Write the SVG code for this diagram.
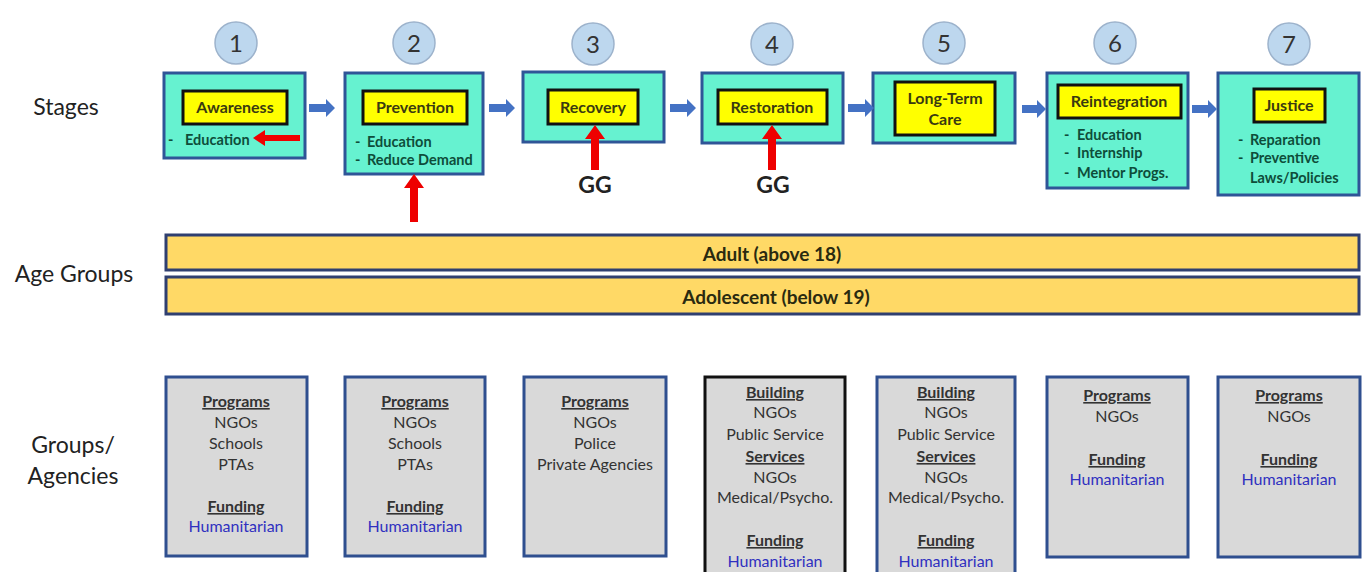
<svg xmlns="http://www.w3.org/2000/svg" width="1363" height="572" viewBox="0 0 1363 572">
<style>
text{font-family:Lato,"Open Sans","Liberation Sans",sans-serif}
.num{font-size:24px;fill:#333;text-anchor:middle}
.circ{fill:#BDD7EE;stroke:#9DB3CC;stroke-width:1.5}
.stage{fill:#66F2D0;stroke:#2F5597;stroke-width:3}
.lbl{fill:#FFFF00;stroke:#111;stroke-width:3}
.lt{font-size:16px;font-weight:bold;fill:#3A3A10;text-anchor:middle}
.it{font-size:14.5px;font-weight:bold;fill:#0E4D3A}
.side{font-size:23px;fill:#222;text-anchor:middle}
.age{fill:#FFD966;stroke:#2F3F70;stroke-width:3}
.at{font-size:19px;font-weight:bold;fill:#2A2A10;text-anchor:middle}
.grp{fill:#D9D9D9;stroke:#2F4F8F;stroke-width:3}
.gt{font-size:16px;fill:#333;text-anchor:middle}
.gh{font-size:16px;font-weight:bold;fill:#333;text-anchor:middle;text-decoration:underline}
.hum{font-size:16px;fill:#3030C0;text-anchor:middle}
.ba{fill:#4472C4}
.ra{fill:#EE0000}
.gg{font-size:23px;font-weight:bold;fill:#222;text-anchor:middle}
</style>
<rect width="1363" height="572" fill="#fff"/>
<g id="labels">
<text class="side" x="66" y="115">Stages</text>
<text class="side" x="74" y="282">Age Groups</text>
<text class="side" x="73" y="453">Groups/</text>
<text class="side" x="73" y="484">Agencies</text>
</g>
<g id="stage1">
<circle class="circ" cx="236" cy="43" r="21"/><text class="num" x="236" y="52">1</text>
<rect class="stage" x="164" y="73" width="141" height="85"/>
<rect class="lbl" x="183" y="91" width="104" height="33"/>
<text class="lt" x="235" y="113">Awareness</text>
<text class="it" x="168" y="145">-</text><text class="it" x="185" y="145">Education</text>
</g>
<g id="stage2">
<circle class="circ" cx="414" cy="43" r="21"/><text class="num" x="414" y="52">2</text>
<rect class="stage" x="345" y="73" width="138" height="101"/>
<rect class="lbl" x="363" y="91" width="104" height="33"/>
<text class="lt" x="415" y="113">Prevention</text>
<text class="it" x="355" y="147">-</text><text class="it" x="367" y="147">Education</text>
<text class="it" x="355" y="165">-</text><text class="it" x="367" y="165">Reduce Demand</text>
</g>
<g id="stage3">
<circle class="circ" cx="593" cy="44" r="21"/><text class="num" x="593" y="53">3</text>
<rect class="stage" x="523" y="72" width="141" height="70"/>
<rect class="lbl" x="548" y="90" width="90" height="34"/>
<text class="lt" x="593" y="113">Recovery</text>
</g>
<g id="stage4">
<circle class="circ" cx="772" cy="44" r="21"/><text class="num" x="772" y="53">4</text>
<rect class="stage" x="702" y="73" width="141" height="70"/>
<rect class="lbl" x="718" y="90" width="109" height="34"/>
<text class="lt" x="772" y="113">Restoration</text>
</g>
<g id="stage5">
<circle class="circ" cx="944" cy="43" r="21"/><text class="num" x="944" y="52">5</text>
<rect class="stage" x="873" y="73" width="142" height="70"/>
<rect class="lbl" x="895" y="82" width="100" height="53"/>
<text class="lt" x="945" y="104">Long-Term</text>
<text class="lt" x="945" y="125">Care</text>
</g>
<g id="stage6">
<circle class="circ" cx="1115" cy="43" r="21"/><text class="num" x="1115" y="52">6</text>
<rect class="stage" x="1047" y="73" width="141" height="115"/>
<rect class="lbl" x="1058" y="85" width="123" height="33"/>
<text class="lt" x="1119" y="107">Reintegration</text>
<text class="it" x="1064" y="140">-</text><text class="it" x="1077" y="140">Education</text>
<text class="it" x="1064" y="158">-</text><text class="it" x="1077" y="158">Internship</text>
<text class="it" x="1064" y="178">-</text><text class="it" x="1077" y="178">Mentor Progs.</text>
</g>
<g id="stage7">
<circle class="circ" cx="1289" cy="44" r="21"/><text class="num" x="1289" y="53">7</text>
<rect class="stage" x="1218" y="73" width="141" height="122"/>
<rect class="lbl" x="1254" y="89" width="71" height="33"/>
<text class="lt" x="1289" y="111">Justice</text>
<text class="it" x="1238" y="145">-</text><text class="it" x="1250" y="145">Reparation</text>
<text class="it" x="1238" y="163">-</text><text class="it" x="1250" y="163">Preventive</text>
<text class="it" x="1250" y="183">Laws/Policies</text>
</g>
<g id="connectors">
<path class="ba" d="M309 104h17v-5l9 9-9 9v-5h-17z"/>
<path class="ba" d="M489 104h17v-5l9 9-9 9v-5h-17z"/>
<path class="ba" d="M670 104h17v-5l9 9-9 9v-5h-17z"/>
<path class="ba" d="M848 104h17v-5l9 9-9 9v-5h-17z"/>
<path class="ba" d="M1022 105h15v-5l9 9-9 9v-5h-15z"/>
<path class="ba" d="M1192 105h16v-5l9 9-9 9v-5h-16z"/>
<path class="ra" d="M300 135h-35v-5l-12 8 12 8v-5h35z"/>
<path class="ra" d="M410 222v-34h-6l10-14 10 14h-6v34z"/>
<path class="ra" d="M591 170v-31h-6l10-14 10 14h-6v31z"/>
<path class="ra" d="M768 170v-31h-6l10-14 10 14h-6v31z"/>
<text class="gg" x="595" y="193">GG</text>
<text class="gg" x="773" y="193">GG</text>
</g>
<g id="age-adult">
<rect class="age" x="166" y="235" width="1193" height="35"/>
<text class="at" x="772" y="261">Adult (above 18)</text>
</g>
<g id="age-adolescent">
<rect class="age" x="166" y="277" width="1193" height="37"/>
<text class="at" x="776" y="304">Adolescent (below 19)</text>
</g>
<g id="group1">
<rect class="grp" x="166" y="377" width="141" height="179"/>
<text class="gh" x="236" y="407">Programs</text>
<text class="gt" x="236" y="428">NGOs</text>
<text class="gt" x="236" y="449">Schools</text>
<text class="gt" x="236" y="470">PTAs</text>
<text class="gh" x="236" y="512">Funding</text>
<text class="hum" x="236" y="532">Humanitarian</text>
</g>
<g id="group2">
<rect class="grp" x="345" y="377" width="140" height="179"/>
<text class="gh" x="415" y="407">Programs</text>
<text class="gt" x="415" y="428">NGOs</text>
<text class="gt" x="415" y="449">Schools</text>
<text class="gt" x="415" y="470">PTAs</text>
<text class="gh" x="415" y="512">Funding</text>
<text class="hum" x="415" y="532">Humanitarian</text>
</g>
<g id="group3">
<rect class="grp" x="524" y="377" width="142" height="179"/>
<text class="gh" x="595" y="407">Programs</text>
<text class="gt" x="595" y="428">NGOs</text>
<text class="gt" x="595" y="449">Police</text>
<text class="gt" x="595" y="470">Private Agencies</text>
</g>
<g id="group4">
<rect class="grp" x="705" y="377" width="140" height="200" style="stroke:#111"/>
<text class="gh" x="775" y="398">Building</text>
<text class="gt" x="775" y="418">NGOs</text>
<text class="gt" x="775" y="440">Public Service</text>
<text class="gh" x="775" y="462">Services</text>
<text class="gt" x="775" y="483">NGOs</text>
<text class="gt" x="775" y="503">Medical/Psycho.</text>
<text class="gh" x="775" y="546">Funding</text>
<text class="hum" x="775" y="567">Humanitarian</text>
</g>
<g id="group5">
<rect class="grp" x="877" y="377" width="138" height="200"/>
<text class="gh" x="946" y="398">Building</text>
<text class="gt" x="946" y="418">NGOs</text>
<text class="gt" x="946" y="440">Public Service</text>
<text class="gh" x="946" y="462">Services</text>
<text class="gt" x="946" y="483">NGOs</text>
<text class="gt" x="946" y="503">Medical/Psycho.</text>
<text class="gh" x="946" y="546">Funding</text>
<text class="hum" x="946" y="567">Humanitarian</text>
</g>
<g id="group6">
<rect class="grp" x="1047" y="377" width="141" height="180"/>
<text class="gh" x="1117" y="401">Programs</text>
<text class="gt" x="1117" y="422">NGOs</text>
<text class="gh" x="1117" y="465">Funding</text>
<text class="hum" x="1117" y="485">Humanitarian</text>
</g>
<g id="group7">
<rect class="grp" x="1218" y="377" width="142" height="180"/>
<text class="gh" x="1289" y="401">Programs</text>
<text class="gt" x="1289" y="422">NGOs</text>
<text class="gh" x="1289" y="465">Funding</text>
<text class="hum" x="1289" y="485">Humanitarian</text>
</g>
</svg>
